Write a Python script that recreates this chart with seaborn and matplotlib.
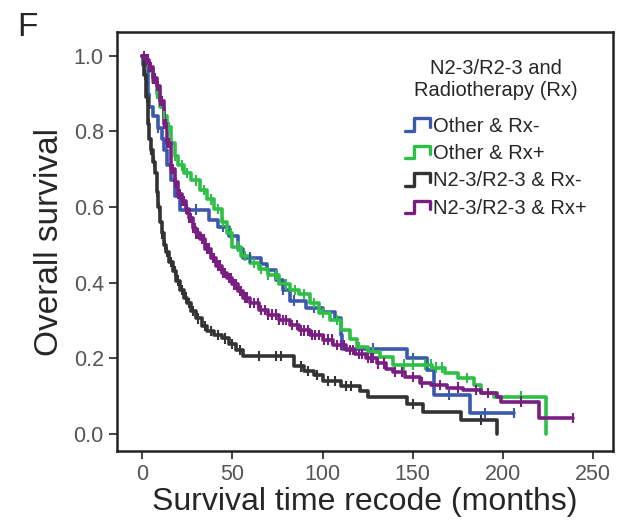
import numpy as np
import pandas as pd
import matplotlib
matplotlib.use("Agg")
import matplotlib.pyplot as plt
import seaborn as sns
from matplotlib.lines import Line2D
from matplotlib.legend_handler import HandlerBase

# Kaplan-Meier step knots (time in months, survival)
other_rxneg_t = [0, 0.5, 3, 4, 6, 9, 11, 12, 14, 16, 18, 21, 37, 42, 48, 53, 56, 66, 69, 74, 78, 82,
                 91, 100, 107, 110, 111, 147, 158, 162, 182, 206]
other_rxneg_s = [1.0, 0.975, 0.9, 0.865, 0.84, 0.81, 0.78, 0.75, 0.71, 0.67, 0.63, 0.593, 0.566, 0.548,
                 0.522, 0.49, 0.466, 0.45, 0.434, 0.407, 0.38, 0.352, 0.333, 0.323, 0.307, 0.262, 0.225,
                 0.2, 0.169, 0.103, 0.055, 0.055]
other_rxneg_cens = [9, 25, 30, 45, 60, 66, 78, 84, 95, 128, 150, 170, 190, 206]

other_rxpos_t = [0, 2, 4, 6, 8, 10, 12, 14, 16, 18, 20, 23, 27, 32, 36, 40, 44, 47, 50, 55, 60, 65, 70,
                 76, 82, 87, 93, 98, 104, 110, 115, 119, 125, 132, 139, 161, 168, 175, 184, 188, 195, 224]
other_rxpos_s = [1.0, 0.985, 0.968, 0.93, 0.9, 0.865, 0.84, 0.812, 0.77, 0.735, 0.71, 0.69, 0.67, 0.645,
                 0.62, 0.595, 0.56, 0.53, 0.495, 0.47, 0.452, 0.435, 0.42, 0.395, 0.38, 0.37, 0.345, 0.32,
                 0.3, 0.275, 0.25, 0.23, 0.215, 0.204, 0.183, 0.175, 0.16, 0.148, 0.13, 0.108, 0.098, 0.0]
other_rxpos_cens = [3, 5, 8, 12, 15, 18, 22, 25, 30, 34, 38, 42, 45, 49, 53, 57, 62, 66, 70, 74, 80,
                    85, 90, 95, 100, 108, 120, 128, 145, 150, 157, 160, 163, 166, 180, 210]

n2_rxneg_t = [0, 1, 2, 3, 4, 5, 6, 7, 8, 9, 10, 11, 12, 13, 15, 17, 19, 21, 23, 25, 27, 30, 33, 36, 40,
              44, 48, 52, 56, 84, 90, 95, 100, 110, 121, 125, 147, 156, 177, 197]
n2_rxneg_s = [1.0, 0.95, 0.89, 0.82, 0.78, 0.75, 0.72, 0.69, 0.64, 0.6, 0.56, 0.53, 0.5, 0.48, 0.455,
              0.43, 0.405, 0.38, 0.36, 0.345, 0.325, 0.305, 0.285, 0.272, 0.262, 0.252, 0.237, 0.222,
              0.205, 0.178, 0.165, 0.156, 0.14, 0.126, 0.112, 0.097, 0.078, 0.057, 0.037, 0.0]
n2_rxneg_cens = [1.5, 2.5, 3.5, 5, 6.5, 8, 9.5, 11, 12.5, 14, 16, 18, 20, 22, 24, 26, 28, 31, 35, 38,
                 42, 46, 50, 54, 65, 74, 77, 88, 92, 97, 103, 107, 113, 116, 150, 188]

n2_rxpos_t = [0, 2, 4, 6, 8, 10, 12, 14, 16, 18, 20, 22, 24, 26, 28, 30, 32, 35, 38, 41, 44, 47, 50, 53,
              56, 60, 65, 70, 76, 82, 87, 93, 100, 106, 113, 118, 124, 130, 135, 139, 146, 154, 160, 169,
              178, 188, 197, 199, 220, 239]
n2_rxpos_s = [1.0, 0.99, 0.97, 0.94, 0.92, 0.88, 0.82, 0.77, 0.7, 0.665, 0.635, 0.615, 0.595, 0.57,
              0.545, 0.53, 0.515, 0.49, 0.465, 0.445, 0.425, 0.412, 0.395, 0.377, 0.36, 0.345, 0.328,
              0.315, 0.3, 0.288, 0.273, 0.262, 0.249, 0.235, 0.222, 0.21, 0.2, 0.186, 0.172, 0.164, 0.15,
              0.135, 0.128, 0.122, 0.115, 0.108, 0.098, 0.085, 0.042, 0.042]
n2_rxpos_cens = [1, 2, 3, 4, 5, 6, 7, 8, 9, 10, 11, 12, 13, 14, 15, 16, 17, 18, 19, 20, 21, 22, 23, 24,
                 25, 26, 27, 28, 29, 30, 31, 33, 34, 36, 37, 39, 40, 42, 43, 45, 46, 48, 49, 51, 52, 54,
                 55, 57, 58, 60, 62, 64, 66, 68, 70, 72, 74, 76, 78, 80, 83, 86, 88, 90, 92, 94, 96, 98,
                 101, 103, 105, 108, 110, 112, 115, 117, 120, 122, 125, 127, 128, 131, 134, 140, 144, 150,
                 155, 165, 175, 185, 192, 210, 239]

groups = ["Other & Rx-", "Other & Rx+", "N2-3/R2-3 & Rx-", "N2-3/R2-3 & Rx+"]
colors = ["#3b59ad", "#2fbf46", "#333333", "#7a1f82"]
curves = [(other_rxneg_t, other_rxneg_s, other_rxneg_cens),
          (other_rxpos_t, other_rxpos_s, other_rxpos_cens),
          (n2_rxneg_t, n2_rxneg_s, n2_rxneg_cens),
          (n2_rxpos_t, n2_rxpos_s, n2_rxpos_cens)]

rows, cens_rows = [], []
for g, (t, s, c) in zip(groups, curves):
    for ti, si in zip(t, s):
        rows.append((g, ti, si))
    t_arr, s_arr = np.array(t), np.array(s)
    for ci in c:
        idx = np.searchsorted(t_arr, ci, side="right") - 1
        cens_rows.append((g, ci, s_arr[idx]))
df = pd.DataFrame(rows, columns=["group", "time", "surv"])
cens = pd.DataFrame(cens_rows, columns=["group", "time", "surv"])
palette = dict(zip(groups, colors))

sns.set_style("white")
plt.rcParams["font.family"] = ["Liberation Sans", "DejaVu Sans"]

fig = plt.figure(figsize=(6.24, 5.29), dpi=100)
ax = fig.add_axes([0.1875, 0.1474, 0.7945, 0.7921])

sns.lineplot(data=df, x="time", y="surv", hue="group", palette=palette, estimator=None,
             drawstyle="steps-post", linewidth=2.6, legend=False, ax=ax)
sns.scatterplot(data=cens, x="time", y="surv", hue="group", palette=palette, marker="|",
                s=55, linewidth=1.5, legend=False, ax=ax, zorder=3)

ax.set_xlim(-14, 261)
ax.set_ylim(-0.046, 1.063)
ax.set_xticks([0, 50, 100, 150, 200, 250])
ax.set_yticks([0.0, 0.2, 0.4, 0.6, 0.8, 1.0])
ax.set_yticklabels(["0.0", "0.2", "0.4", "0.6", "0.8", "1.0"])
ax.tick_params(axis="both", length=6, width=1.2, color="#222222", labelsize=15.5,
               labelcolor="#555555", direction="out", bottom=True, left=True)
for sp in ax.spines.values():
    sp.set_color("#222222")
    sp.set_linewidth(1.8)
ax.set_xlabel("Survival time recode (months)", fontsize=23, labelpad=1)
ax.set_ylabel("Overall survival", fontsize=24, labelpad=6)


class StepHandler(HandlerBase):
    def create_artists(self, legend, orig_handle, xdescent, ydescent, width, height, fontsize, trans):
        x0, x1 = -xdescent, -xdescent + width
        y0, y1 = -ydescent + height * 0.05, -ydescent + height * 0.95
        xs = [x0, x0 + width * 0.35, x0 + width * 0.35, x1 - width * 0.05, x1 - width * 0.05]
        ys = [y0, y0, y1, y1, y0 + height * 0.3]
        line = Line2D(xs, ys, color=orig_handle.get_color(), linewidth=2.4, transform=trans)
        return [line]


handles = [Line2D([], [], color=c) for c in colors]
leg = ax.legend(handles, groups, title="N2-3/R2-3 and\nRadiotherapy (Rx)", loc="upper left",
                bbox_to_anchor=(0.565, 0.955), frameon=False, fontsize=14.5, title_fontsize=14.5,
                handler_map={Line2D: StepHandler()}, handlelength=1.3, handletextpad=0.1,
                labelspacing=0.42, borderaxespad=0)
leg.get_title().set_multialignment("center")
leg._legend_box.sep = 12

fig.text(0.028, 0.978, "F", fontsize=24, va="top", ha="left")

fig.savefig("out.png", dpi=100)
